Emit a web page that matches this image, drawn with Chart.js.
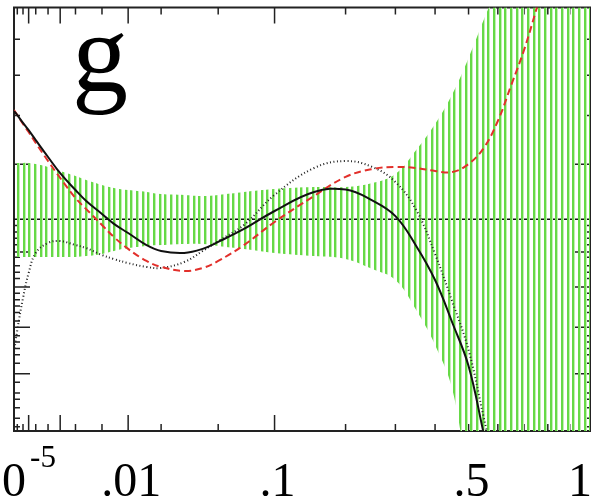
<!DOCTYPE html>
<html lang="en">
<head>
<meta charset="UTF-8">
<title>g ratio</title>
<style>
  html, body { margin: 0; padding: 0; background: #fff; }
  canvas { display: block; }
</style>
</head>
<body>
<canvas id="chart" width="592" height="499"></canvas>

<script src="https://cdn.jsdelivr.net/npm/chart.js"></script>
<script>
// x values (momentum fraction), plotted on a cube-root axis
const xPoints = [1e-5, 2e-5, 5e-5, 1e-4, 2e-4, 5e-4, 1e-3, 2e-3, 3e-3, 5e-3, 7e-3,
                 0.01, 0.015, 0.02, 0.03, 0.04, 0.05, 0.07, 0.1, 0.15, 0.2, 0.25,
                 0.3, 0.35, 0.4, 0.45, 0.5, 0.55, 0.6, 0.65, 0.7, 0.75, 0.8, 0.9, 1.0];

// ratio curves
const centralFit = [1.511, 1.492, 1.455, 1.421, 1.374, 1.294, 1.218, 1.138, 1.086, 1.025, 0.978,
                    0.935, 0.878, 0.850, 0.841, 0.860, 0.893, 0.954, 1.039, 1.129, 1.140, 1.089,
                    1.015, 0.874, 0.713, 0.510, 0.307, -0.01, null, null, null, null, null, null, null];
const dashedFit = [1.516, 1.492, 1.450, 1.412, 1.360, 1.275, 1.195, 1.100, 1.048, 0.973, 0.916,
                   0.860, 0.803, 0.775, 0.756, 0.770, 0.803, 0.878, 0.987, 1.110, 1.200, 1.237,
                   1.247, 1.242, 1.228, 1.223, 1.261, 1.336, 1.464, 1.634, 1.799, 1.988, 2.177, null, null];
const dottedFit = [0.373, 0.477, 0.628, 0.746, 0.841, 0.888, 0.897, 0.878, 0.864, 0.831, 0.812,
                   0.793, 0.775, 0.770, 0.798, 0.850, 0.897, 0.973, 1.115, 1.242, 1.275, 1.247,
                   1.176, 1.044, 0.836, 0.609, 0.383, 0.066, -0.231, null, null, null, null, null, null];

// uncertainty band
const bandHigh = [1.266, 1.266, 1.266, 1.266, 1.261, 1.247, 1.228, 1.204, 1.185, 1.162, 1.148,
                  1.138, 1.129, 1.119, 1.115, 1.110, 1.115, 1.129, 1.143, 1.152, 1.152, 1.171,
                  1.214, 1.327, 1.450, 1.592, 1.762, 1.941, 2.106, 2.3, 2.5, 2.7, 2.9, 3.3, 3.7];
const bandLow = [0.822, 0.822, 0.822, 0.822, 0.822, 0.822, 0.822, 0.822, 0.826, 0.836, 0.850,
                 0.864, 0.874, 0.878, 0.883, 0.883, 0.874, 0.860, 0.841, 0.826, 0.812, 0.765,
                 0.713, 0.571, 0.406, 0.194, -0.231, -0.5, -0.7, -0.9, -1.1, -1.3, -1.5, -1.9, -2.3];

const refLevel = 1;

// axis decorations
const xLabelAt = [1e-5, 0.01, 0.1, 0.5, 1];
const xLabelText = ['10^-5', '.01', '.1', '.5', '1'];
const xMajorTicks = [1e-4, 1e-3, 0.01, 0.1];
const xMinorTicks = [2e-5, 5e-5, 2e-4, 5e-4, 2e-3, 5e-3, 0.02, 0.05, 0.2, 0.3, 0.4, 0.5, 0.6, 0.7, 0.8, 0.9];
const yMajorTicks = [0.27, 0.49, 0.68, 0.845, 1.26];
const yMinorTicks = [0.02, 0.06, 0.11, 0.15, 0.18, 0.23, 0.32, 0.36, 0.39, 0.42, 0.45, 0.52, 0.56,
                     0.59, 0.62, 0.65, 0.72, 0.75, 0.78, 0.82, 0.88, 0.91, 0.94, 0.97, 1.49, 1.68, 1.85];
const panelTag = 'g';

const xMin = Math.cbrt(xPoints[0]);
const xMax = Math.cbrt(xPoints[xPoints.length - 1]);
const pts = ys => xPoints.map((x, i) => ({ x: Math.cbrt(x), y: ys[i] }));

// vertical green hatching for the band
function hatch() {
    const c = document.createElement('canvas');
    c.width = 17;
    c.height = 4;
    const g = c.getContext('2d');
    [0, 6, 11].forEach(x => {
        g.fillStyle = '#c2f0b2';
        g.fillRect(x + 2, 0, 1, 4);
        g.fillStyle = '#66d946';
        g.fillRect(x, 0, 2, 4);
    });
    return g.createPattern(c, 'repeat');
}

const SERIF = '"Liberation Serif", "Times New Roman", serif';
const MAIN_FONT = '48px ' + SERIF;
const SUP_FONT = '31px ' + SERIF;

const frame = {
    id: 'frame',
    beforeDatasetsDraw(chart) {
        const { ctx, chartArea: a, scales: { x, y } } = chart;
        ctx.save();
        ctx.strokeStyle = '#222';
        ctx.lineWidth = 2;
        ctx.strokeRect(a.left, a.top, a.right - a.left, a.bottom - a.top);
        ctx.lineWidth = 1.5;
        ctx.beginPath();
        const tx = (vals, len) => vals.forEach(v => {
            const px = x.getPixelForValue(Math.cbrt(v));
            ctx.moveTo(px, a.bottom); ctx.lineTo(px, a.bottom - len);
            ctx.moveTo(px, a.top); ctx.lineTo(px, a.top + len);
        });
        const ty = (vals, len) => vals.forEach(v => {
            const py = y.getPixelForValue(v);
            ctx.moveTo(a.left, py); ctx.lineTo(a.left + len, py);
            ctx.moveTo(a.right, py); ctx.lineTo(a.right - len, py);
        });
        tx(xMajorTicks, 16);
        tx(xMinorTicks, 7);
        ty(yMajorTicks, 16);
        ty(yMinorTicks, 6);
        ctx.stroke();
        ctx.restore();
    },
    afterDraw(chart) {
        const { ctx, chartArea: a, scales: { x } } = chart;
        ctx.save();
        ctx.fillStyle = '#000';
        ctx.textBaseline = 'alphabetic';
        ctx.textAlign = 'left';

        xLabelText.forEach((txt, i) => {
            const [base, sup] = txt.split('^');
            ctx.font = MAIN_FONT;
            const wb = ctx.measureText(base).width;
            ctx.font = SUP_FONT;
            const ws = sup ? ctx.measureText(sup).width + 4 : 0;
            const w = wb + ws;
            let left = x.getPixelForValue(Math.cbrt(xLabelAt[i])) - w / 2 + 3;
            if (left + w > chart.width) left = chart.width - w;
            ctx.font = MAIN_FONT;
            ctx.fillText(base, left, 496);
            if (sup) {
                ctx.font = SUP_FONT;
                ctx.fillText(sup, left + wb + 4, 467);
            }
        });

        ctx.font = '112px ' + SERIF;
        ctx.fillText(panelTag, a.left + 58, 91);
        ctx.restore();
    }
};

new Chart(document.getElementById('chart'), {
    type: 'line',
    data: {
        datasets: [
            { data: pts(centralFit), borderColor: '#111', borderWidth: 2 },
            { data: pts(dashedFit), borderColor: '#e2302b', borderWidth: 2, borderDash: [7, 4] },
            { data: pts(dottedFit), borderColor: '#222', borderWidth: 2, borderDash: [1, 2.5] },
            { data: pts(bandHigh), borderColor: 'transparent', borderWidth: 0, fill: false },
            { data: pts(bandLow), borderColor: 'transparent', borderWidth: 0, fill: '-1', backgroundColor: hatch() },
            { data: [{ x: xMin, y: refLevel }, { x: xMax, y: refLevel }], borderColor: '#111', borderWidth: 1.6, tension: 0 }
        ]
    },
    options: {
        responsive: false,
        animation: false,
        devicePixelRatio: 1,
        layout: { padding: { left: 14, right: 2, top: 7.5, bottom: 68 } },
        elements: {
            point: { radius: 0 },
            line: { tension: 0.4 }
        },
        plugins: {
            legend: { display: false },
            tooltip: { enabled: false }
        },
        scales: {
            x: { type: 'linear', display: false, min: xMin, max: xMax },
            y: { display: false, min: 0, max: 2 }
        }
    },
    plugins: [frame]
});
</script>
</body>
</html>
